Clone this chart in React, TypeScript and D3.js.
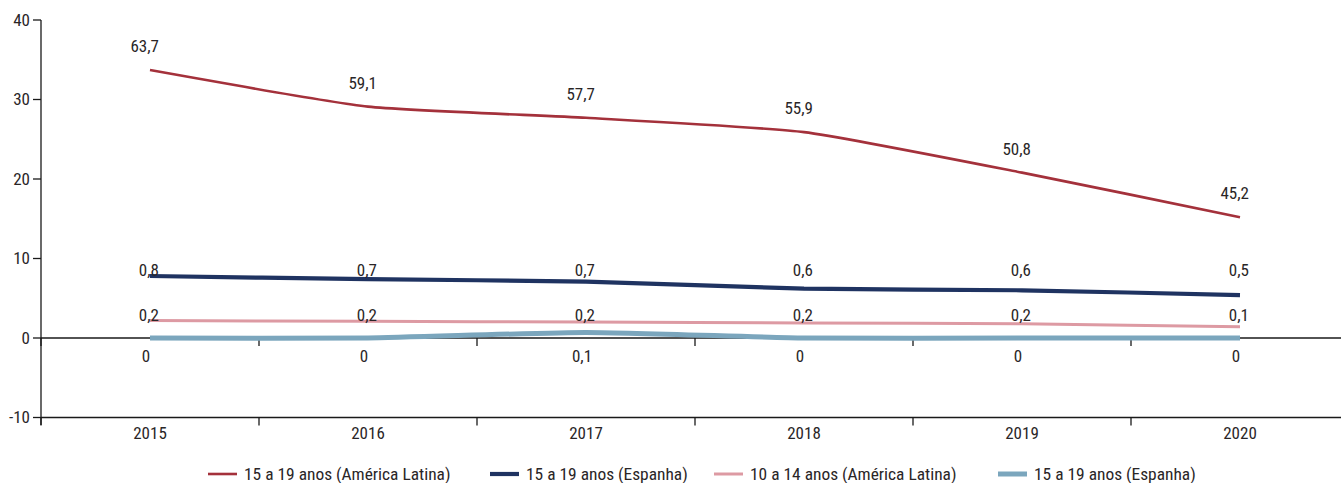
import React from "react";
import * as d3 from "d3";

const years = ["2015", "2016", "2017", "2018", "2019", "2020"];
const yTicks = [-10, 0, 10, 20, 30, 40];

// plotted values (as drawn in the reference)
const latam1519 = [33.7, 29.1, 27.7, 25.9, 20.8, 15.2];
const spain1519 = [7.8, 7.4, 7.1, 6.2, 6.0, 5.4];
const latam1014 = [2.2, 2.1, 2.0, 1.9, 1.8, 1.4];
const spain1519b = [0, 0, 0.7, 0, 0, 0];

// data labels (as printed in the reference)
const latam1519Labels = ["63,7", "59,1", "57,7", "55,9", "50,8", "45,2"];
const spain1519Labels = ["0,8", "0,7", "0,7", "0,6", "0,6", "0,5"];
const latam1014Labels = ["0,2", "0,2", "0,2", "0,2", "0,2", "0,1"];
const spain1519bLabels = ["0", "0", "0,1", "0", "0", "0"];

const seriesNames = [
  "15 a 19 anos (América Latina)",
  "15 a 19 anos (Espanha)",
  "10 a 14 anos (América Latina)",
  "15 a 19 anos (Espanha)",
];

const W = 1341;
const H = 483;
const FONT = "'Roboto Condensed', 'Liberation Sans Narrow', 'DejaVu Sans Condensed', Roboto, sans-serif";
const TXT = "#2a2627";

export default function App() {
  const x = d3.scaleBand<string>().domain(years).range([41, 1349]);
  const y = d3.scaleLinear().domain([-10, 40]).range([417.5, 20]);
  const cx = (d: string) => (x(d) as number) + x.bandwidth() / 2;

  const line = d3
    .line<number>()
    .x((_, i) => cx(years[i]))
    .y((v) => y(v))
    .curve(d3.curveCardinal.tension(0.5));

  const series = [
    { values: latam1519, labels: latam1519Labels, color: "#a4313b", width: 2.6, label: "track" as const, dy: -18 },
    { values: spain1519, labels: spain1519Labels, color: "#1f3361", width: 4.2, label: "level" as const, level: 7.85 },
    { values: latam1014, labels: latam1014Labels, color: "#dd9aa3", width: 3, label: "level" as const, level: 2.2 },
    { values: spain1519b, labels: spain1519bLabels, color: "#7ba6bd", width: 5, label: "below" as const, level: -3 },
  ];

  const legendX = [208, 490, 714, 998];
  const boundaries = years.map((d) => x(d) as number).concat([x.range()[1]]);

  return (
    <div style={{ position: "absolute", left: 0, top: 0 }}>
      <svg width={W} height={H} style={{ display: "block", fontFamily: FONT }}>
        <rect width={W} height={H} fill="#fff" />
        {/* y axis */}
        <line x1={41} x2={41} y1={y(40)} y2={425} stroke="#1a1a1a" strokeWidth={1.3} />
        {yTicks.map((t) => (
          <g key={t}>
            <line x1={33} x2={41} y1={y(t)} y2={y(t)} stroke="#1a1a1a" strokeWidth={1.3} />
            <text x={30} y={y(t)} dy="0.35em" textAnchor="end" fontSize={17} fill={TXT}>
              {t}
            </text>
          </g>
        ))}
        {/* bottom axis at -10 */}
        <line x1={41} x2={W} y1={y(-10)} y2={y(-10)} stroke="#1a1a1a" strokeWidth={1.3} />
        {boundaries.map((b, i) => (
          <line key={"bt" + i} x1={b} x2={b} y1={y(-10)} y2={y(-10) + 8} stroke="#1a1a1a" strokeWidth={1.3} />
        ))}
        {years.map((d) => (
          <text key={d} x={cx(d)} y={439} textAnchor="middle" fontSize={17} fill={TXT}>
            {d}
          </text>
        ))}
        {/* zero line */}
        <line x1={41} x2={W} y1={y(0)} y2={y(0)} stroke="#1a1a1a" strokeWidth={1.3} />
        {boundaries.map((b, i) => (
          <line key={"zt" + i} x1={b} x2={b} y1={y(0)} y2={y(0) + 8} stroke="#1a1a1a" strokeWidth={1.3} />
        ))}
        {/* lines */}
        {series.map((s, si) => (
          <path key={"l" + si} d={line(s.values) || ""} fill="none" stroke={s.color} strokeWidth={s.width} />
        ))}
        {/* data labels */}
        {series.map((s, si) =>
          s.values.map((v, i) => {
            const px = cx(years[i]);
            if (s.label === "track") {
              return (
                <text key={"t" + si + i} x={px + 9} y={y(v) + (s.dy as number)} textAnchor="end" fontSize={17} fill={TXT}>
                  {s.labels[i]}
                </text>
              );
            }
            if (s.label === "level") {
              return (
                <text key={"t" + si + i} x={px + 9} y={y(s.level as number)} textAnchor="end" fontSize={17} fill={TXT}>
                  {s.labels[i]}
                </text>
              );
            }
            return (
              <text key={"t" + si + i} x={px - 4} y={y(s.level as number)} textAnchor="middle" fontSize={17} fill={TXT}>
                {s.labels[i]}
              </text>
            );
          })
        )}
        {/* legend */}
        {series.map((s, si) => (
          <g key={"lg" + si} transform={`translate(${legendX[si]},474)`}>
            <line x1={0} x2={29} y1={0} y2={0} stroke={s.color} strokeWidth={s.width} />
            <text x={36} y={0} dy="0.35em" fontSize={17.4} fill={TXT}>
              {seriesNames[si]}
            </text>
          </g>
        ))}
      </svg>
    </div>
  );
}
